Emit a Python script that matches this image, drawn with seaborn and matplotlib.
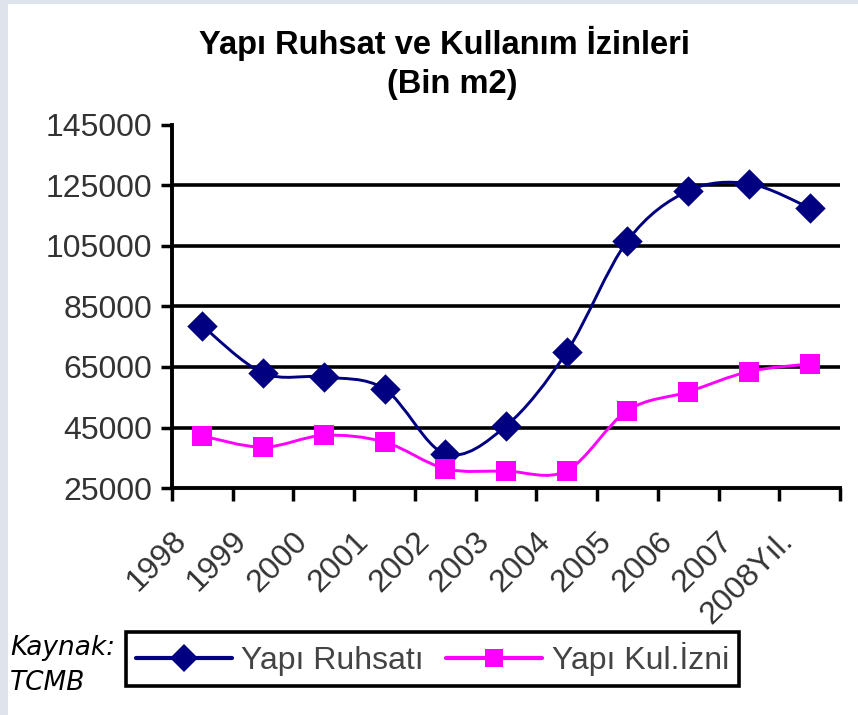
import numpy as np
import pandas as pd
import matplotlib
matplotlib.use("Agg")
import matplotlib.pyplot as plt
import seaborn as sns
from matplotlib.path import Path
from matplotlib.patches import PathPatch, Rectangle
from matplotlib.lines import Line2D
import matplotlib.transforms as mtransforms

years = ["1998", "1999", "2000", "2001", "2002", "2003", "2004", "2005", "2006", "2007", "2008Yıl."]
ruhsat = [78600, 63000, 61700, 57700, 36300, 45500, 70000, 106700, 123200, 125600, 117600]
kul_izni = [42200, 38500, 42400, 40200, 31400, 30600, 30700, 50600, 56800, 63500, 66000]
series_names = ["Yapı Ruhsatı", "Yapı Kul.İzni"]
yticks = [25000, 45000, 65000, 85000, 105000, 125000, 145000]

NAVY = "#000080"
MAGENTA = "#ff00ff"

sns.set_theme(style="white")
plt.rcParams["font.family"] = ["Liberation Sans", "DejaVu Sans"]

W, H = 858, 715
fig = plt.figure(figsize=(W / 100, H / 100), dpi=100)
fig.patch.set_facecolor("#dfe3ec")
fig.add_artist(Rectangle((8 / W, 0), 1, (H - 4) / H, transform=fig.transFigure,
                         facecolor="white", edgecolor="none", zorder=0))

ax = fig.add_axes([172 / W, (H - 488) / H, (840 - 172) / W, (488 - 125) / H])
ax.set_facecolor("white")

df = pd.DataFrame({
    "idx": list(range(len(years))) * 2,
    "value": ruhsat + kul_izni,
    "series": [series_names[0]] * len(years) + [series_names[1]] * len(years),
})


def smooth_path(xs, ys):
    pts = np.column_stack([xs, ys]).astype(float)
    n = len(pts)
    verts = [pts[0]]
    codes = [Path.MOVETO]
    for i in range(n - 1):
        p0 = pts[i - 1] if i > 0 else pts[i]
        p1 = pts[i]
        p2 = pts[i + 1]
        p3 = pts[i + 2] if i + 2 < n else pts[i + 1]
        c1 = p1 + (p2 - p0) / 6.0
        c2 = p2 - (p3 - p1) / 6.0
        verts += [c1, c2, p2]
        codes += [Path.CURVE4] * 3
    return Path(verts, codes)


# smoothed connecting lines (Excel-style smoothing)
for vals, col in [(ruhsat, NAVY), (kul_izni, MAGENTA)]:
    ax.add_patch(PathPatch(smooth_path(np.arange(len(years)), vals), facecolor="none",
                           edgecolor=col, lw=2.1, zorder=3))

# markers
sns.scatterplot(data=df[df.series == series_names[0]], x="idx", y="value", marker="D",
                s=240, color=NAVY, edgecolor=NAVY, linewidth=0, ax=ax, zorder=4, legend=False)
sns.scatterplot(data=df[df.series == series_names[1]], x="idx", y="value", marker="s",
                s=220, color=MAGENTA, edgecolor=MAGENTA, linewidth=0, ax=ax, zorder=4, legend=False)

ax.set_xlim(-0.5, len(years) - 0.5)
ax.set_ylim(25000, 145000)
ax.set_xlabel("")
ax.set_ylabel("")

# grid lines
for v in yticks[1:-1]:
    ax.axhline(v, color="black", lw=2.6, zorder=1)

ax.set_yticks(yticks)
ax.set_yticklabels([str(v) for v in yticks], fontsize=23, color="#333333")
ax.tick_params(axis="y", direction="out", length=8, width=2.5, color="black", pad=6, left=True)

ax.set_xticks(np.arange(-0.5, len(years), 1.0))
ax.set_xticklabels([])
ax.tick_params(axis="x", direction="out", length=9, width=2.5, color="black", bottom=True)

offset = mtransforms.ScaledTranslation(-10 / 100, -38 / 100, fig.dpi_scale_trans)
for i, lab in enumerate(years):
    t = ax.text(i, 0, lab, transform=ax.get_xaxis_transform(), rotation=45,
                ha="right", va="top", fontsize=23, color="#333333")
    t.set_transform(t.get_transform() + offset)

for s in ["top", "right"]:
    ax.spines[s].set_visible(False)
for s in ["left", "bottom"]:
    ax.spines[s].set_color("black")
    ax.spines[s].set_linewidth(2.8)
ax.spines["bottom"].set_zorder(5)

# title
fig.text(444 / W, 1 - 43 / H, "Yapı Ruhsat ve Kullanım İzinleri", ha="center", va="center",
         fontsize=23.5, fontweight="bold", color="black")
fig.text(452 / W, 1 - 85 / H, "(Bin m2)", ha="center", va="center",
         fontsize=23.5, fontweight="bold", color="black")

# legend
handles = [
    Line2D([], [], color=NAVY, lw=3, marker="D", markersize=14, markeredgewidth=0),
    Line2D([], [], color=MAGENTA, lw=3, marker="s", markersize=13, markeredgewidth=0),
]
leg = fig.legend(handles, series_names, loc="center",
                 bbox_to_anchor=((128 + 737) / 2 / W, 1 - 659 / H), ncol=2,
                 fontsize=23, frameon=True, fancybox=False, shadow=False, framealpha=1,
                 handlelength=3.0, handletextpad=0.3, columnspacing=0.7,
                 borderpad=0.3, labelcolor="#444444")
leg.get_frame().set_edgecolor("black")
leg.get_frame().set_linewidth(2.6)

fig.text(10 / W, 1 - 648 / H, "Kaynak:", ha="left", va="center", fontsize=19,
         fontstyle="italic", family=["DejaVu Sans"], color="black")
fig.text(10 / W, 1 - 683 / H, "TCMB", ha="left", va="center", fontsize=19,
         fontstyle="italic", family=["DejaVu Sans"], color="black")

fig.savefig("out.png", dpi=100, facecolor=fig.get_facecolor())
